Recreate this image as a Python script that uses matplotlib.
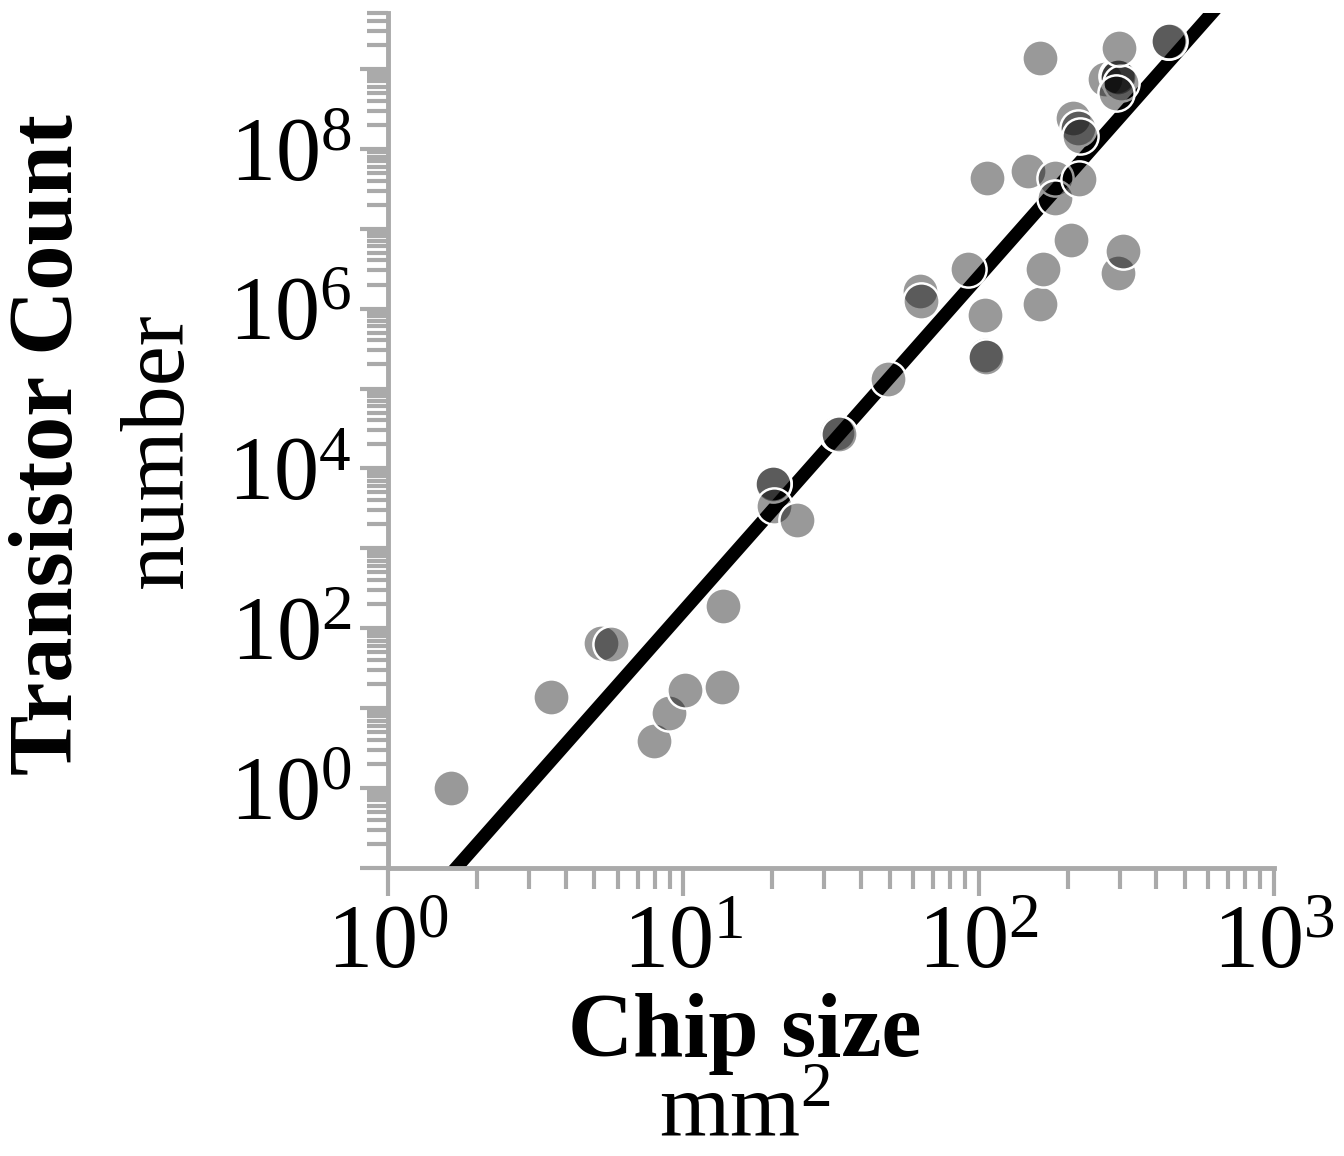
import numpy as np
import matplotlib
matplotlib.use("Agg")
import matplotlib.pyplot as plt
from matplotlib.ticker import LogLocator, FuncFormatter, NullFormatter

plt.rcParams['font.family'] = ['Liberation Serif', 'DejaVu Serif']
plt.rcParams['mathtext.fontset'] = 'custom'
plt.rcParams['mathtext.rm'] = 'Liberation Serif'
plt.rcParams['mathtext.it'] = 'Liberation Serif:italic'
plt.rcParams['mathtext.bf'] = 'Liberation Serif:bold'

# chip size (mm^2) and transistor count
chip_size = [1.63, 3.56, 5.27, 5.69, 7.96, 8.95, 10.1, 13.5, 13.6,
             20.1, 20.1, 20.3, 24.3, 33.2, 33.6, 49.3,
             63.5, 64.0, 92.0, 105, 105, 106, 107,
             147, 161, 165, 161, 181, 181, 206, 219,
             209, 217, 220, 297, 308,
             268, 294, 296, 303, 292, 299, 438, 440]
transistors = [1.0, 13.7, 65, 63, 3.9, 8.7, 16.8, 18.3, 188,
               6500, 6300, 3350, 2240, 2.8e4, 2.7e4, 1.33e5,
               1.68e6, 1.26e6, 3.16e6, 8.2e5, 2.6e5, 2.5e5, 4.3e7,
               5.3e7, 1.15e6, 3.16e6, 1.37e9, 4.3e7, 2.4e7, 7.3e6, 4.2e7,
               2.4e8, 1.8e8, 1.45e8, 2.8e6, 5.3e6,
               7.5e8, 8.1e8, 7.9e8, 6.7e8, 5.0e8, 1.8e9, 2.24e9, 2.2e9]

# fitted power law: log10(y) = slope*log10(x) + intercept
fit_slope = 4.18
fit_intercept = -1.963

gray = '#aaaaaa'
fs = 65

fig = plt.figure(figsize=(13.44, 11.56), dpi=100)
ax = fig.add_axes([388/1344, 1-868/1156, (1274-388)/1344, (868-13)/1156])

xx = np.logspace(0, 3, 200)
ax.plot(xx, 10**(fit_slope*np.log10(xx) + fit_intercept), color='black', lw=9.5,
        solid_capstyle='butt', zorder=2)
ax.scatter(chip_size, transistors, s=680, facecolor=(0, 0, 0, 0.4),
           edgecolor='white', linewidth=1.8, zorder=3)

ax.set_xscale('log')
ax.set_yscale('log')
ax.set_xlim(1, 1000)
ax.set_ylim(0.1, 5e9)

for s in ['top', 'right']:
    ax.spines[s].set_visible(False)
for s in ['left', 'bottom']:
    ax.spines[s].set_color(gray)
    ax.spines[s].set_linewidth(3.5)

ax.xaxis.set_major_locator(LogLocator(base=10, numticks=20))
ax.xaxis.set_minor_locator(LogLocator(base=10, subs=np.arange(2, 10), numticks=20))
ax.yaxis.set_major_locator(LogLocator(base=10, numticks=30))
ax.yaxis.set_minor_locator(LogLocator(base=10, subs=np.arange(2, 10), numticks=30))


def xfmt(v, pos):
    e = int(round(np.log10(v)))
    return r'$10^{%d}$' % e


def yfmt(v, pos):
    e = int(round(np.log10(v)))
    if e % 2 == 0 and e >= 0:
        return r'$10^{%d}$' % e
    return ''


ax.xaxis.set_major_formatter(FuncFormatter(xfmt))
ax.yaxis.set_major_formatter(FuncFormatter(yfmt))
ax.xaxis.set_minor_formatter(NullFormatter())
ax.yaxis.set_minor_formatter(NullFormatter())

ax.tick_params(which='major', length=20, width=3, color=gray, labelsize=fs, pad=6)
ax.tick_params(which='minor', length=15, width=3, color=gray)

fig.text(745/1344, 1-1056/1156, 'Chip size', ha='center', va='baseline',
         fontsize=fs, fontweight='bold')
fig.text(745/1344, 1-1136/1156, r'mm$^{2}$', ha='center', va='baseline', fontsize=fs)
fig.text(50/1344, 1-445/1156, 'Transistor Count', ha='center', va='center',
         rotation=90, fontsize=fs, fontweight='bold')
fig.text(160/1344, 1-450/1156, 'number', ha='center', va='center',
         rotation=90, fontsize=fs)

fig.savefig('out.png', dpi=100)
